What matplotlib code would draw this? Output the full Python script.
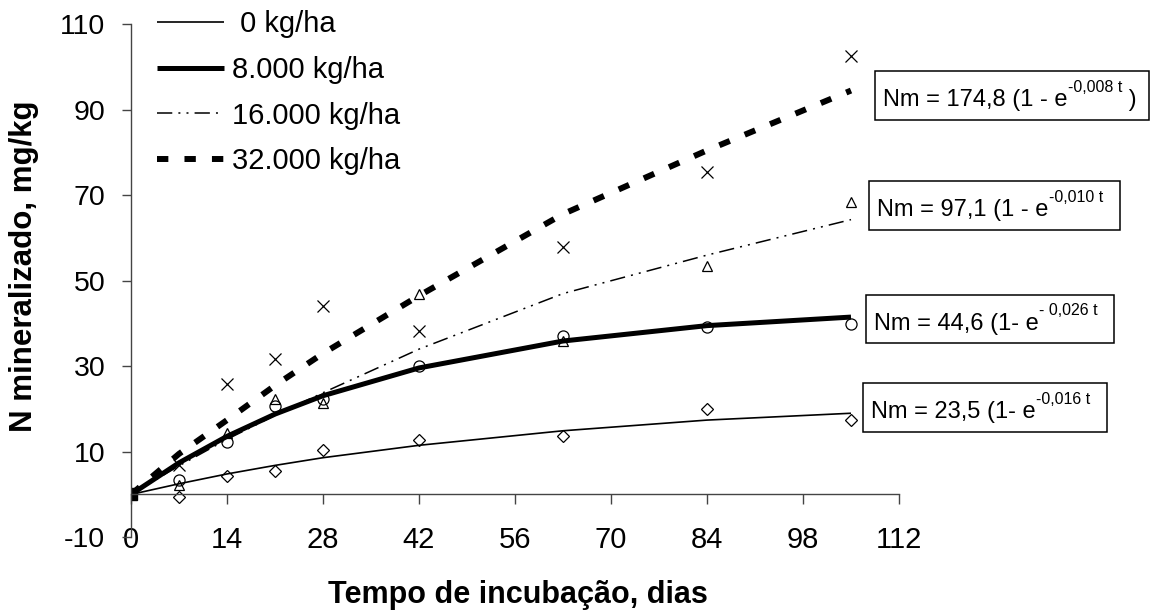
import numpy as np
import matplotlib
matplotlib.use('Agg')
import matplotlib.pyplot as plt
from matplotlib.offsetbox import TextArea, HPacker, VPacker, DrawingArea, AnnotationBbox

plt.rcParams['font.family'] = ['Liberation Sans', 'DejaVu Sans']
plt.rcParams['axes.unicode_minus'] = False

# ---------------- data ----------------
days = [0, 7, 14, 21, 28, 42, 63, 84, 105]
series_labels = [' 0 kg/ha', '8.000 kg/ha', '16.000 kg/ha', '32.000 kg/ha']

obs_0 = [0, -0.5, 4.4, 5.5, 10.3, 12.7, 13.7, 20.1, 17.5]
obs_8000 = [0, 3.4, 12.3, 20.8, 22.4, 30.1, 37.1, 39.2, 39.9]
obs_16000 = [0, 2.2, 14.3, 22.4, 21.3, 46.8, 35.9, 53.4, 68.5]
obs_32000 = [0, 6.9, 25.9, 31.7, 44.1, 38.3, 58.0, 75.5, 102.6]

fit_0 = [0, 2.5, 4.8, 6.8, 8.6, 11.5, 14.9, 17.4, 19.0]
fit_8000 = [0, 7.4, 13.6, 18.8, 23.1, 29.6, 35.9, 39.5, 41.5]
fit_16000 = [0, 6.7, 12.9, 18.5, 23.8, 34.0, 47.0, 56.0, 64.3]
fit_32000 = [0, 9.5, 17.4, 25.5, 33.0, 46.5, 65.6, 80.5, 94.5]

eq_main = ['Nm = 174,8 (1 - e', 'Nm = 97,1 (1 - e', 'Nm = 44,6 (1- e', 'Nm = 23,5 (1- e']
eq_sup = ['-0,008 t', '-0,010 t', '- 0,026 t', '-0,016 t']
eq_tail = [' )', '', '', '']

x_ticks = list(range(0, 113, 14))
y_ticks = list(range(-10, 111, 20))
x_label = 'Tempo de incubação, dias'
y_label = 'N mineralizado, mg/kg'

# ---------------- figure ----------------
W, H = 1157, 611
fig = plt.figure(figsize=(W / 100, H / 100), dpi=100)
fig.patch.set_facecolor('white')
ax = fig.add_axes([131 / W, 1 - 537.2 / H, (899 - 131) / W, (537.2 - 24.3) / H])

ax.set_xlim(0, 112)
ax.set_ylim(-10, 110)

axis_col = '#444444'
for s in ['top', 'right']:
    ax.spines[s].set_visible(False)
ax.spines['bottom'].set_position(('data', 0))
for s in ['bottom', 'left']:
    ax.spines[s].set_color(axis_col)
    ax.spines[s].set_linewidth(1.0)

ax.set_xticks(x_ticks)
ax.set_yticks(y_ticks)
ax.tick_params(axis='x', direction='out', length=7.2, width=1.0, color=axis_col,
               labelsize=21, pad=15.5)
ax.tick_params(axis='y', direction='out', length=6.5, width=1.0, color=axis_col,
               labelsize=20.5, pad=12)

# fitted curves
h0, = ax.plot(days, fit_0, color='black', lw=1.2, solid_capstyle='butt')
h1, = ax.plot(days, fit_8000, color='black', lw=3.6, solid_capstyle='butt')
h2, = ax.plot(days, fit_16000, color='black', lw=1.1,
              linestyle=(0, (10.0, 4.0, 1.3, 4.0, 1.3, 4.0)))
h3, = ax.plot(days, fit_32000, color='black', lw=4.3,
              linestyle=(0, (1.9, 2.7)), dash_capstyle='butt')

# observed points
mk = dict(color='black', mfc='none', mec='black', mew=0.9, linestyle='none')
ax.plot(days[1:], obs_0[1:], marker='D', ms=6.0, **mk)
ax.plot(days[1:], obs_8000[1:], marker='o', ms=8.0, **mk)
ax.plot(days[1:], obs_16000[1:], marker='^', ms=7.5, **mk)
ax.plot(days[1:], obs_32000[1:], marker='x', ms=8.5, **mk)
ax.plot([days[0]], [obs_0[0]], marker='s', ms=8, color='black', linestyle='none')

leg = ax.legend([h0, h1, h2, h3], series_labels, loc='upper left',
                bbox_to_anchor=(157 / W, 1 - 10 / H), bbox_transform=fig.transFigure,
                frameon=False, fontsize=21, handlelength=2.3, handletextpad=0.28,
                labelspacing=0.61, borderpad=0, borderaxespad=0)

# equation boxes: (left px, center y px from top)
box_pos = [(875, 95.5), (869, 205.5), (866, 319), (863, 407.5)]
fs_main, fs_sup = 17, 11.5
raise_pt = 12.0
pad_frac = 0.6
pad_px = pad_frac * 10 * 100 / 72
for m, sp, tl, (lx, cy) in zip(eq_main, eq_sup, eq_tail, box_pos):
    ta_main = TextArea(m, textprops=dict(fontsize=fs_main, color='black'))
    ta_sup = TextArea(sp, textprops=dict(fontsize=fs_sup, color='black'))
    sup_box = VPacker(children=[ta_sup, DrawingArea(0, raise_pt)], align='left', pad=0, sep=0)
    kids = [ta_main, sup_box]
    if tl:
        kids.append(TextArea(tl, textprops=dict(fontsize=fs_main, color='black')))
        kids.append(DrawingArea(3, 1))
    else:
        kids.append(DrawingArea(6, 1))
    hp = HPacker(children=kids, align='bottom', pad=0, sep=0)
    ab = AnnotationBbox(hp, (lx + pad_px, H - cy), xycoords='figure pixels',
                        box_alignment=(0, 0.5), frameon=True, pad=pad_frac, fontsize=10,
                        bboxprops=dict(boxstyle='square,pad=%.3f' % pad_frac,
                                       ec='black', fc='white', lw=1.1))
    fig.add_artist(ab)

fig.text(518 / W, 1 - 603 / H, x_label, fontsize=22, fontweight='bold',
         ha='center', va='baseline')
fig.text(24 / W, 1 - 266 / H, y_label, fontsize=22.5, fontweight='bold',
         ha='center', va='center', rotation=90)

fig.savefig('out.png', dpi=100, facecolor='white')
